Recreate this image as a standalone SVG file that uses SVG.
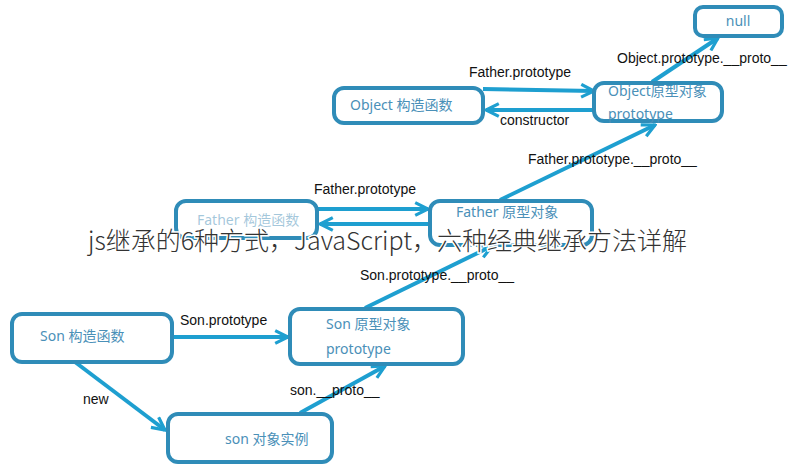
<svg xmlns="http://www.w3.org/2000/svg" width="799" height="465" viewBox="0 0 799 465">
<defs>
<marker id="ah" viewBox="0 0 10 10" refX="9" refY="5" markerWidth="4" markerHeight="4" orient="auto"><path d="M1,1 L9,5 L1,9" fill="none" stroke="#1e9fd0" stroke-width="2"/></marker>
<style>
.b{fill:#fff;stroke:#2f8cb8;stroke-width:4}
.t{font-family:"Noto Sans","Noto Sans CJK SC",sans-serif;font-size:14px;fill:#4a90b8}
.l{font-family:"Liberation Sans","Noto Sans CJK SC",sans-serif;font-size:14px;fill:#111}
.c{stroke:#1e9fd0;stroke-width:4;fill:none;marker-end:url(#ah)}
</style>
</defs>
<rect width="799" height="465" fill="#fff"/>
<g id="connectors">
<line class="c" x1="483" y1="89" x2="594" y2="91"/>
<line class="c" x1="594" y1="110" x2="486" y2="110"/>
<line class="c" x1="652" y1="82" x2="718" y2="38"/>
<line class="c" x1="500" y1="200" x2="655" y2="125"/>
<line class="c" x1="317" y1="209" x2="428" y2="209"/>
<line class="c" x1="430" y1="224" x2="320" y2="224"/>
<line class="c" x1="365" y1="308" x2="492" y2="246"/>
<line class="c" x1="172" y1="337" x2="288" y2="337"/>
<line class="c" x1="75" y1="362" x2="165" y2="430"/>
<line class="c" x1="300" y1="413" x2="385" y2="366"/>
</g>
<g id="null"><rect class="b" x="695" y="7" width="87" height="29" rx="8"/><text class="t" x="738" y="26" text-anchor="middle">null</text></g>
<g id="objctor"><rect class="b" x="334" y="88" width="149" height="35" rx="10"/><text class="t" x="350" y="110">Object 构造函数</text></g>
<g id="objproto"><rect class="b" x="594" y="83" width="128" height="38" rx="10"/><text class="t" x="608" y="96">Object原型对象</text><text class="t" x="608" y="119">prototype</text></g>
<g id="fatherctor"><rect class="b" x="176" y="201" width="141" height="37" rx="10"/><text class="t" x="197" y="225" fill-opacity="0.5">Father 构造函数</text></g>
<g id="fatherproto"><rect class="b" x="430" y="201" width="162" height="44" rx="10"/><text class="t" x="456" y="217">Father 原型对象</text></g>
<g id="sonctor"><rect class="b" x="12" y="314" width="160" height="48" rx="10"/><text class="t" x="40" y="341">Son 构造函数</text></g>
<g id="sonproto"><rect class="b" x="290" y="309" width="173" height="55" rx="10"/><text class="t" x="326" y="329">Son 原型对象</text><text class="t" x="326" y="354">prototype</text></g>
<g id="soninst"><rect class="b" x="168" y="414" width="164" height="48" rx="10"/><text class="t" x="225" y="444">son 对象实例</text></g>
<g id="labels">
<text class="l" x="469" y="77">Father.prototype</text>
<text class="l" x="500" y="125">constructor</text>
<text class="l" x="617" y="63">Object.prototype.__proto__</text>
<text class="l" x="528" y="164">Father.prototype.__proto__</text>
<text class="l" x="314" y="194">Father.prototype</text>
<text class="l" x="360" y="280">Son.prototype.__proto__</text>
<text class="l" x="180" y="325">Son.prototype</text>
<text class="l" x="290" y="395">son.__proto__</text>
<text class="l" x="83" y="404">new</text>
</g>
<text x="88" y="250" font-family="'Noto Sans CJK SC','Noto Sans',sans-serif" font-size="25" font-weight="300" fill="#333" stroke="#fff" stroke-width="3" paint-order="stroke">js继承的6种方式，JavaScript，六种经典继承方法详解</text>
</svg>
